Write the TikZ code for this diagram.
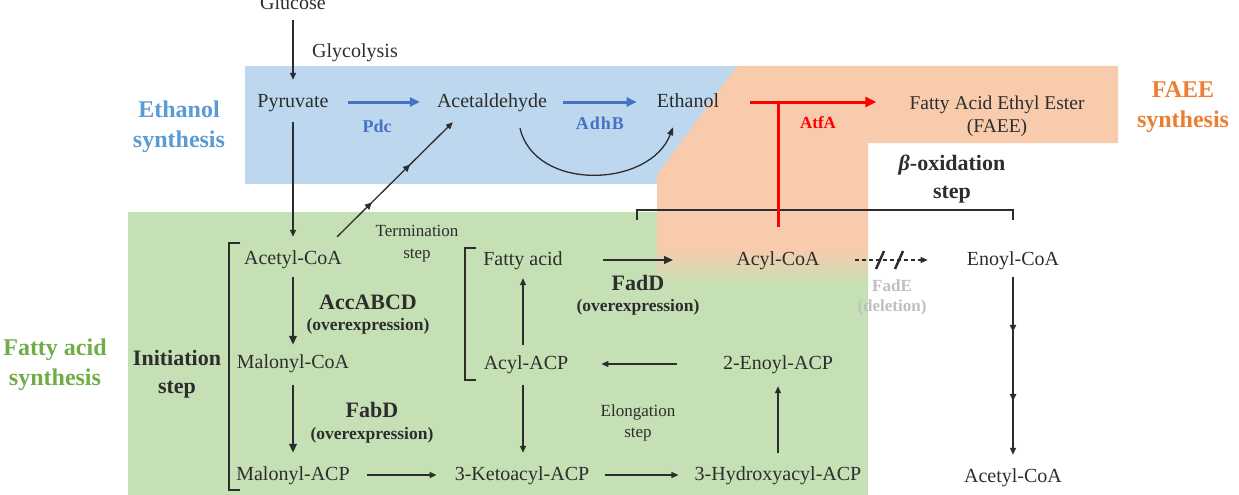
\documentclass[tikz,border=0pt]{standalone}
\usepackage{fontspec}
\setmainfont{Liberation Serif}
\usetikzlibrary{arrows.meta,decorations.markings,calc}
\definecolor{txtc}{RGB}{45,45,45}
\definecolor{bluebg}{RGB}{189,215,238}
\definecolor{grnbg}{RGB}{197,224,180}
\definecolor{orgbg}{RGB}{248,203,173}
\definecolor{bluetitle}{RGB}{91,155,213}
\definecolor{greentitle}{RGB}{112,173,71}
\definecolor{orangetitle}{RGB}{237,125,49}
\definecolor{arrblue}{RGB}{68,114,196}
\definecolor{redc}{RGB}{255,0,0}
\definecolor{grayc}{RGB}{191,191,191}
\begin{document}
\begin{tikzpicture}[x=1pt,y=-1pt,
  mol/.style={inner sep=0pt, text height=14pt, text depth=4pt, font=\fontsize{20}{24}\selectfont, text=txtc},
  small/.style={inner sep=0pt, align=center, font=\fontsize{17}{22}\selectfont, text=txtc},
  enz/.style={inner sep=0pt, align=center, font=\bfseries\fontsize{22}{24}\selectfont, text=txtc},
  ovx/.style={inner sep=0pt, font=\bfseries\fontsize{17.5}{20}\selectfont, text=txtc},
  title/.style={inner sep=0pt, align=center, font=\bfseries\fontsize{24}{30}\selectfont},
  arr/.style={line width=1.3pt, draw=txtc, -{Triangle[length=7pt,width=6pt]}},
  tharr/.style={line width=2.2pt, draw=txtc, -{Triangle[length=9pt,width=7.5pt]}},
  bluearr/.style={line width=3pt, draw=arrblue, -{Triangle[length=10pt,width=9pt]}},
  redarr/.style={line width=3pt, draw=redc, -{Triangle[length=11pt,width=10pt]}},
  brk/.style={line width=1.5pt, draw=txtc},
  midmarks/.style 2 args={postaction={decorate}, decoration={markings,
     mark=at position #1 with {\arrow{Triangle[length=7pt,width=6.5pt]}},
     mark=at position #2 with {\arrow{Triangle[length=7pt,width=6.5pt]}}}}
]
\useasboundingbox (0,0) rectangle (1239,495);
% backgrounds
\fill[bluebg] (245,66) rectangle (745,184);
\fill[grnbg] (128,212) rectangle (868,495);
\fill[orgbg] (737,66) -- (1118,66) -- (1118,143) -- (868,143) -- (868,250) -- (657,250) -- (657,175) -- cycle;
\shade[top color=orgbg, bottom color=grnbg] (657,249) rectangle (868,285);

% titles
\node[title, text=bluetitle] (tEth) at (179,127) {Ethanol\\synthesis};
\node[title, text=greentitle] (tFas) at (55,365) {Fatty acid\\synthesis};
\node[title, text=orangetitle] (tFaee) at (1183,107.5) {FAEE\\synthesis};

% molecules
\node[mol] (glc) at (293,5) {Glucose};
\node[mol] (pyr) at (293,102) {Pyruvate};
\node[mol] (acald) at (492,102) {Acetaldehyde};
\node[mol] (etoh) at (688,102) {Ethanol};
\node[inner sep=0pt, align=center, font=\fontsize{19.5}{23}\selectfont, text=txtc] (faee) at (997,116.5) {Fatty Acid Ethyl Ester\\(FAEE)};
\node[mol] (acoa) at (293,259) {Acetyl-CoA};
\node[mol] (malcoa) at (293,363) {Malonyl-CoA};
\node[mol] (malacp) at (293,475) {Malonyl-ACP};
\node[mol] (fa) at (523,260) {Fatty acid};
\node[mol] (acylcoa) at (778,260) {Acyl-CoA};
\node[mol] (enoylcoa) at (1013,260) {Enoyl-CoA};
\node[mol] (acylacp) at (526,364) {Acyl-ACP};
\node[mol] (enoylacp) at (778,364) {2-Enoyl-ACP};
\node[mol] (keto) at (522,475) {3-Ketoacyl-ACP};
\node[mol] (hydroxy) at (778,475) {3-Hydroxyacyl-ACP};
\node[mol] (acoa2) at (1013,477) {Acetyl-CoA};

% labels
\node[mol] (glyc) at (355,52) {Glycolysis};
\node[inner sep=0pt, font=\bfseries\fontsize{18}{20}\selectfont, text=arrblue] (pdc) at (377,126) {Pdc};
\node[inner sep=0pt, font=\bfseries\fontsize{18}{20}\selectfont, text=arrblue] (adhb) at (600,123) {A\kern1ptd\kern1pth\kern1ptB};
\node[inner sep=0pt, font=\bfseries\fontsize{17}{20}\selectfont, text=redc] (atfa) at (818,123) {AtfA};
\node[small] (term) at (417,244) {Termination\\step};
\node[small, font=\fontsize{17}{21}\selectfont] (elong) at (638,422.5) {Elongation\\step};
\node[enz] (acc) at (368,302) {AccABCD};
\node[ovx] (acco) at (368,326) {(overexpression)};
\node[enz] (fabd) at (372,410) {FabD};
\node[ovx] (fabdo) at (372,435) {(overexpression)};
\node[enz] (fadd) at (638,283) {FadD};
\node[ovx] (faddo) at (638,307) {(overexpression)};
\node[inner sep=0pt, align=center, font=\bfseries\fontsize{17}{20}\selectfont, text=grayc] (fade) at (892,297) {FadE\\(deletion)};
\node[enz, font=\bfseries\fontsize{22}{28}\selectfont] (init) at (177,374) {Initiation\\step};
\node[enz, font=\bfseries\fontsize{22}{28}\selectfont] (beta) at (952,179) {{\itshape β}-oxidation\\step};

% brackets
\draw[brk] (240,243) -- (229,243) -- (229,490) -- (240,490);
\draw[brk] (476,248) -- (465,248) -- (465,380) -- (476,380);
\draw[brk] (637,220) -- (637,210) -- (1013,210) -- (1013,220);

% connectors
\draw[arr, shorten <=6pt, shorten >=13pt] (glc.south) -- (glc.south |- pyr.north);
\draw[arr, shorten <=11pt, shorten >=13pt] (pyr.south) -- (pyr.south |- acoa.north);
\draw[bluearr, shorten <=19pt, shorten >=17pt] (pyr.east) -- (acald.west);
\draw[bluearr, shorten <=16pt, shorten >=20pt] (acald.east) -- (etoh.west);
\draw[txtc, line width=1.3pt, -{Triangle[length=8pt,width=6pt]}]
  ([shift={(28,17)}]acald.south) .. controls (535,192) and (650,188) .. ([shift={(-15,16)}]etoh.south);
\draw[arr, midmarks={0.3}{0.63}] ([shift={(-5,-13)}]acoa.north east) -- ([shift={(16,11)}]acald.south west);
\draw[redarr, shorten <=31pt, shorten >=33pt] (etoh.east) -- (etoh.east -| faee.west);
\draw[line width=3pt, redc, shorten <=24pt] (acylcoa.north) -- (acylcoa.north |- etoh.east);
\draw[tharr, shorten <=9pt, shorten >=9pt] (acoa.south) -- (acoa.south |- malcoa.north);
\draw[tharr, shorten <=13pt, shorten >=13pt] (malcoa.south) -- (malcoa.south |- malacp.north);
\draw[arr, shorten <=17pt, shorten >=18pt] (malacp.east) -- (keto.west);
\draw[arr, shorten <=16pt, shorten >=16pt] (keto.east) -- (hydroxy.west);
\draw[arr, shorten <=13pt, shorten >=13pt] (hydroxy.north) -- (hydroxy.north |- enoylacp.south);
\draw[arr, shorten <=46pt, shorten >=33pt] (enoylacp.west) -- (enoylacp.west -| acylacp.east);
\draw[arr, shorten <=10pt, shorten >=9pt] (fa.south |- acylacp.north) -- (fa.south);
\draw[arr, shorten <=12pt, shorten >=13pt] (fa.south |- acylacp.south) -- (fa.south |- keto.north);
\draw[tharr, shorten <=40pt, shorten >=63pt] (fa.east) -- (fa.east -| acylcoa.west);
\draw[arr, dash pattern=on 4pt off 3pt, shorten <=35pt, shorten >=39pt] (acylcoa.east) -- (enoylcoa.west);
\draw[line width=2.5pt, txtc] (876,269) -- (884,251);
\draw[line width=2.5pt, txtc] (895,269) -- (903,251);
\draw[arr, midmarks={0.315}{0.663}, shorten <=8pt, shorten >=13pt] (enoylcoa.south) -- (enoylcoa.south |- acoa2.north);
\end{tikzpicture}
\end{document}
